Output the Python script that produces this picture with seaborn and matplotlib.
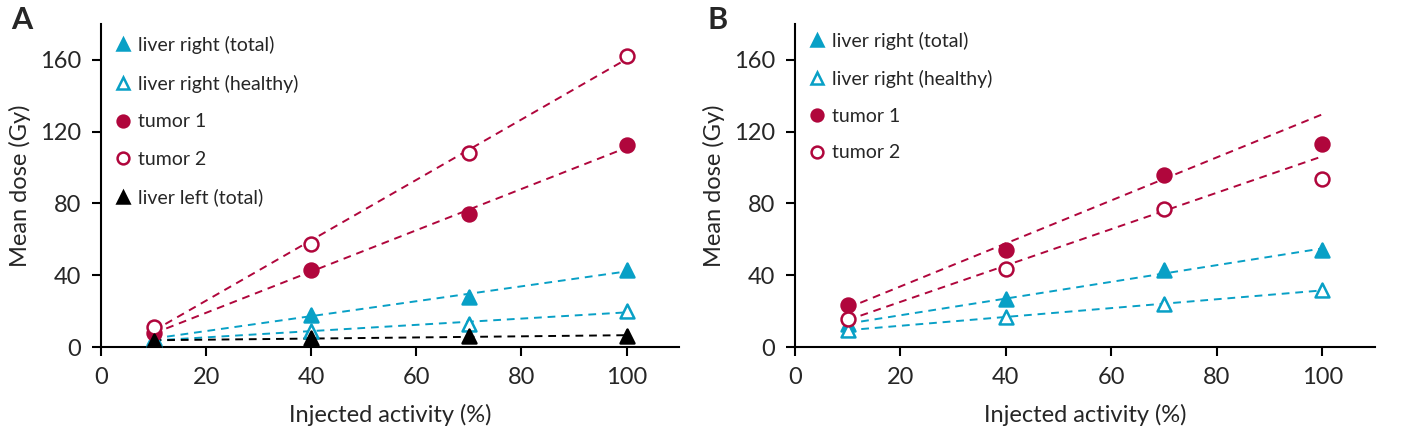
import numpy as np
import pandas as pd
import matplotlib
matplotlib.use("Agg")
import matplotlib.pyplot as plt
from matplotlib.lines import Line2D
import seaborn as sns

# Datos
actividad = [10, 40, 70, 100]

# Panel A
a_liver_right_total = [4.8, 18.0, 28.0, 43.0]
a_liver_right_healthy = [4.0, 8.9, 13.1, 20.0]
a_tumor1 = [8.0, 42.8, 73.9, 112.6]
a_tumor2 = [10.9, 57.6, 108.2, 162.2]
a_liver_left_total = [3.5, 5.0, 6.0, 6.3]

# Panel B
b_liver_right_total = [12.8, 26.5, 42.8, 53.9]
b_liver_right_healthy = [9.4, 16.9, 23.9, 31.7]
b_tumor1 = [23.7, 53.9, 95.6, 113.1]
b_tumor2 = [15.9, 43.7, 76.7, 93.7]

serie_nombres = ['liver right (total)', 'liver right (healthy)', 'tumor 1', 'tumor 2', 'liver left (total)']
# cuantos puntos entran en el ajuste lineal (panel B: tumores sin el 100%)
puntos_ajuste_a = [4, 4, 4, 4, 4]
puntos_ajuste_b = [4, 4, 3, 3]

AZUL = '#08a0c6'
ROJO = '#b0063c'
estilos = {
    'liver right (total)': dict(marker='^', color=AZUL, filled=True),
    'liver right (healthy)': dict(marker='^', color=AZUL, filled=False),
    'tumor 1': dict(marker='o', color=ROJO, filled=True),
    'tumor 2': dict(marker='o', color=ROJO, filled=False),
    'liver left (total)': dict(marker='^', color='black', filled=True),
}

sns.set_style('ticks')
plt.rcParams['font.family'] = ['Lato', 'DejaVu Sans']


def armar_df(series):
    filas = []
    for nombre, valores in series:
        for x, y in zip(actividad, valores):
            filas.append({'serie': nombre, 'actividad': x, 'dosis': y})
    return pd.DataFrame(filas)


def dibujar_panel(ax, df, n_ajuste, labelspacing, ancla_y):
    nombres = list(df['serie'].unique())
    # lineas de ajuste
    for nombre, n in zip(nombres, n_ajuste):
        sub = df[df['serie'] == nombre]
        coef = np.polyfit(sub['actividad'][:n], sub['dosis'][:n], 1)
        ajuste = pd.DataFrame({'actividad': sub['actividad'],
                               'dosis': np.polyval(coef, sub['actividad'])})
        sns.lineplot(data=ajuste, x='actividad', y='dosis', ax=ax,
                     color=estilos[nombre]['color'], linestyle=(0, (4, 3)),
                     linewidth=1.4, zorder=2)
    # puntos
    for nombre in nombres:
        sub = df[df['serie'] == nombre]
        est = estilos[nombre]
        cara = est['color'] if est['filled'] else 'white'
        sns.scatterplot(data=sub, x='actividad', y='dosis', ax=ax,
                        marker=est['marker'], s=100, facecolor=cara,
                        edgecolor=est['color'], linewidth=1.8, zorder=3)

    handles = []
    for nombre in nombres:
        est = estilos[nombre]
        handles.append(Line2D([], [], linestyle='none', marker=est['marker'],
                              markersize=8.5, markeredgewidth=1.8,
                              markerfacecolor=est['color'] if est['filled'] else 'white',
                              markeredgecolor=est['color']))
    ax.legend(handles, nombres, loc='upper left', bbox_to_anchor=(0.0, ancla_y),
              frameon=False, fontsize=14, handlelength=0.9, handletextpad=0.3,
              labelspacing=labelspacing, borderaxespad=0.3)

    ax.set_xlim(0, 110)
    ax.set_ylim(0, 180)
    ax.set_xticks([0, 20, 40, 60, 80, 100])
    ax.set_yticks([0, 40, 80, 120, 160])
    ax.set_xlabel('Injected activity (%)', fontsize=17, labelpad=11)
    ax.set_ylabel('Mean dose (Gy)', fontsize=17, labelpad=6)
    ax.tick_params(labelsize=17, width=1.5, length=6.5, pad=8, color='black')
    for lado in ['left', 'bottom']:
        ax.spines[lado].set_linewidth(1.5)
        ax.spines[lado].set_color('black')
    sns.despine(ax=ax)


fig = plt.figure(figsize=(14.03, 4.36), dpi=100)
ax_a = fig.add_axes([0.072, 0.204, 0.412, 0.741])
ax_b = fig.add_axes([0.5666, 0.204, 0.4134, 0.741])

df_a = armar_df(zip(serie_nombres, [a_liver_right_total, a_liver_right_healthy,
                                    a_tumor1, a_tumor2, a_liver_left_total]))
df_b = armar_df(zip(serie_nombres[:4], [b_liver_right_total, b_liver_right_healthy,
                                        b_tumor1, b_tumor2]))

dibujar_panel(ax_a, df_a, puntos_ajuste_a, 1.06, 1.005)
dibujar_panel(ax_b, df_b, puntos_ajuste_b, 1.02, 1.018)

fig.text(0.008, 0.955, 'A', fontsize=22, fontweight='bold', va='center', ha='left')
fig.text(0.504, 0.955, 'B', fontsize=22, fontweight='bold', va='center', ha='left')

fig.savefig('out.png', dpi=100)
